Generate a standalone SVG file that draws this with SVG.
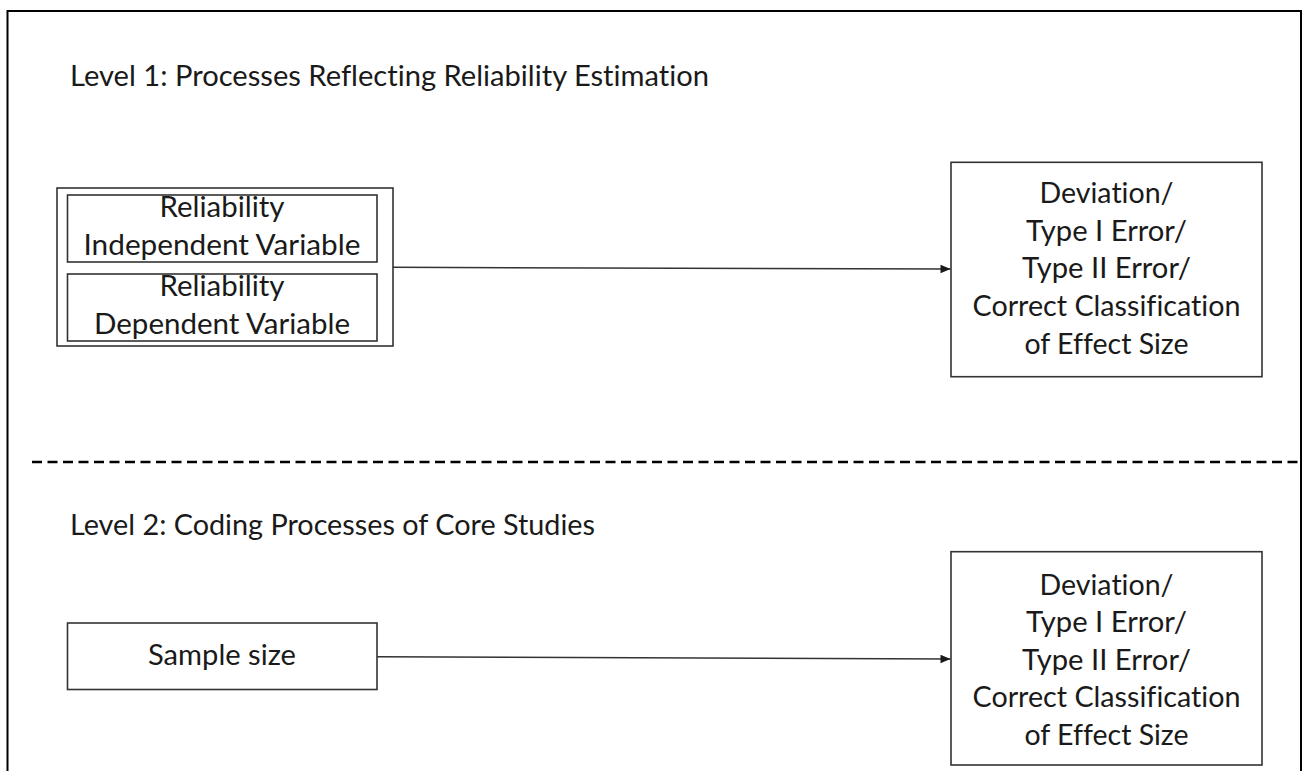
<svg xmlns="http://www.w3.org/2000/svg" width="1304" height="771" viewBox="0 0 1304 771">
  <style>
    .frame { fill: none; stroke: #000; stroke-width: 2; }
    .divider { fill: none; stroke: #000; stroke-width: 2.5; stroke-dasharray: 10 5.5; }
    .box { fill: #fff; stroke: #333; stroke-width: 1.6; }
    .edge { fill: none; stroke: #333; stroke-width: 1.5; }
    text { font-family: Lato, "Open Sans", "Liberation Sans", sans-serif; font-size: 28px; fill: #1a1a1a;
           font-variant-ligatures: none; font-feature-settings: "liga" 0, "dlig" 0; }
    .mid { text-anchor: middle; }
  </style>
  <defs>
    <marker id="arrow" viewBox="0 0 10 10" refX="10" refY="5" markerWidth="10" markerHeight="10" markerUnits="userSpaceOnUse" orient="auto">
      <path d="M0,0.8 L10,5 L0,9.2 Z" fill="#1a1a1a"/>
    </marker>
  </defs>

  <rect width="1304" height="771" fill="#fff"/>

  <!-- outer frame, open at the bottom -->
  <path class="frame" d="M7.5,771 V11 H1301 V771"/>

  <!-- level separator -->
  <line class="divider" x1="32" y1="462" x2="1301" y2="462"/>

  <!-- level headings -->
  <g id="level1-title">
    <text x="70" y="86" textLength="639" lengthAdjust="spacingAndGlyphs">Level 1: Processes Reflecting Reliability Estimation</text>
  </g>
  <g id="level2-title">
    <text x="70" y="535" textLength="525" lengthAdjust="spacingAndGlyphs">Level 2: Coding Processes of Core Studies</text>
  </g>

  <!-- level 1 predictors -->
  <g id="reliability-group">
    <rect class="box" x="57" y="188" width="336" height="158"/>
    <g id="reliability-iv">
      <rect class="box" x="67.5" y="195" width="309.5" height="67"/>
      <text class="mid" x="222" y="216.7" textLength="125" lengthAdjust="spacingAndGlyphs">Reliability</text>
      <text class="mid" x="222" y="254.8" textLength="277" lengthAdjust="spacingAndGlyphs">Independent Variable</text>
    </g>
    <g id="reliability-dv">
      <rect class="box" x="67.5" y="274" width="309.5" height="67"/>
      <text class="mid" x="222" y="295.5" textLength="125" lengthAdjust="spacingAndGlyphs">Reliability</text>
      <text class="mid" x="222" y="333.6" textLength="256" lengthAdjust="spacingAndGlyphs">Dependent Variable</text>
    </g>
  </g>

  <!-- level 1 outcome -->
  <g id="outcome-level1">
    <rect class="box" x="951" y="162.3" width="311" height="214.4"/>
    <text class="mid" x="1106.5" y="202.7" textLength="134" lengthAdjust="spacingAndGlyphs">Deviation/</text>
    <text class="mid" x="1106.5" y="240.5" textLength="161" lengthAdjust="spacingAndGlyphs">Type I Error/</text>
    <text class="mid" x="1106.5" y="278.3" textLength="169" lengthAdjust="spacingAndGlyphs">Type II Error/</text>
    <text class="mid" x="1106.5" y="316.1" textLength="268" lengthAdjust="spacingAndGlyphs">Correct Classification</text>
    <text class="mid" x="1106.5" y="353.9" textLength="164" lengthAdjust="spacingAndGlyphs">of Effect Size</text>
  </g>

  <!-- level 2 predictor -->
  <g id="sample-size">
    <rect class="box" x="67.5" y="623" width="309.5" height="66.5"/>
    <text class="mid" x="222" y="665" textLength="148" lengthAdjust="spacingAndGlyphs">Sample size</text>
  </g>

  <!-- level 2 outcome -->
  <g id="outcome-level2">
    <rect class="box" x="951" y="551.7" width="311" height="213.3"/>
    <text class="mid" x="1106.5" y="594.5" textLength="134" lengthAdjust="spacingAndGlyphs">Deviation/</text>
    <text class="mid" x="1106.5" y="632.1" textLength="161" lengthAdjust="spacingAndGlyphs">Type I Error/</text>
    <text class="mid" x="1106.5" y="669.7" textLength="169" lengthAdjust="spacingAndGlyphs">Type II Error/</text>
    <text class="mid" x="1106.5" y="707.3" textLength="268" lengthAdjust="spacingAndGlyphs">Correct Classification</text>
    <text class="mid" x="1106.5" y="744.9" textLength="164" lengthAdjust="spacingAndGlyphs">of Effect Size</text>
  </g>

  <!-- connectors -->
  <g id="connectors">
    <line class="edge" x1="393" y1="267.3" x2="950.5" y2="269" marker-end="url(#arrow)"/>
    <line class="edge" x1="377" y1="656.7" x2="950.5" y2="659" marker-end="url(#arrow)"/>
  </g>
</svg>
